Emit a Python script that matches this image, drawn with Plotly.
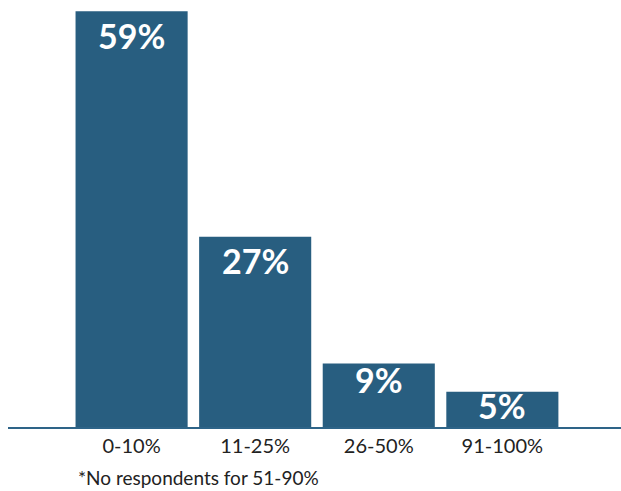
import plotly.graph_objects as go

# Share of respondents by range
categories = ["0-10%", "11-25%", "26-50%", "91-100%"]
values = [59, 27, 9, 5]
value_labels = ["59%", "27%", "9%", "5%"]
footnote = "*No respondents for 51-90%"

bar_color = "#285E80"

# Distance (px) from bar top to the centre of its value label;
# short bars get their label pulled up closer to the top.
label_drop = {"59%": 24, "27%": 24, "9%": 16, "5%": 14}

fig = go.Figure()
fig.add_trace(go.Bar(
    x=categories,
    y=values,
    marker=dict(color=bar_color, line=dict(width=0)),
    hoverinfo="skip",
))

# White value labels inside the top of each bar
for cat, val, lab in zip(categories, values, value_labels):
    fig.add_annotation(
        x=cat, y=val, text=lab, showarrow=False,
        xref="x", yref="y", yanchor="middle", yshift=-label_drop[lab],
        font=dict(family="Lato", size=34, color="white", weight="bold"),
    )

fig.add_annotation(
    xref="paper", yref="paper", x=0.111, y=-0.119,
    xanchor="left", yanchor="middle", showarrow=False,
    text=footnote,
    font=dict(family="Lato", size=19, color="#222222"),
)

fig.update_layout(
    width=621, height=491,
    margin=dict(l=8, r=0, t=0, b=64),
    paper_bgcolor="white", plot_bgcolor="white",
    bargap=0.093,
    showlegend=False,
    xaxis=dict(
        range=[-1.0, 3.96],
        showgrid=False, zeroline=False,
        showline=True, linecolor="#2E6488", linewidth=2,
        ticks="", ticklabelstandoff=0,
        tickfont=dict(family="Lato", size=20, color="#222222"),
    ),
    yaxis=dict(
        range=[0, 60.6], visible=False,
        showgrid=False, zeroline=False,
    ),
)

fig.write_html("out.html")
